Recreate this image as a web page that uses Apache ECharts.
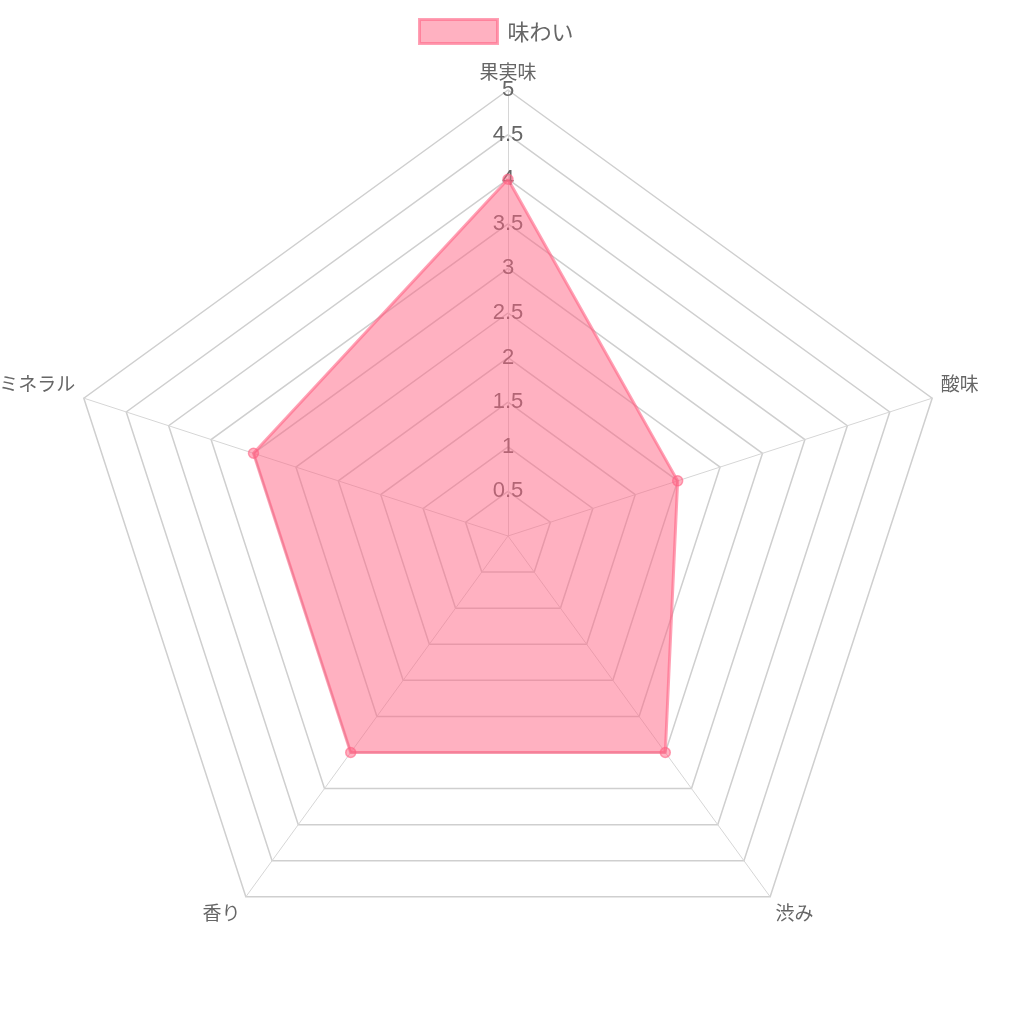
<!DOCTYPE html>
<html><head><meta charset="utf-8">
<script src="https://cdn.jsdelivr.net/npm/echarts@6/dist/echarts.min.js"></script>
<style>html,body{margin:0;padding:0;background:#fff}#c{width:1012px;height:1012px}</style>
</head><body><div id="c"></div>
<script>
const categories = ['果実味', '酸味', '渋み', '香り', 'ミネラル'];
const seriesName = '味わい';
const values = [4, 2, 3, 3, 3];
const maxValue = 5;
const tickStep = 0.5;

// ECharts goes counter-clockwise; reorder to keep reference clockwise layout
const order = [0, 4, 3, 2, 1];
const indicators = order.map(i => ({ name: categories[i], max: maxValue, min: 0 }));
const data = order.map(i => values[i]);

const FONT = '"Noto Sans CJK JP", "Noto Sans", sans-serif';
const CX = 508, CY = 536, R = 446;

// label style per position (side labels sit a bit higher, bottom ones a bit lower)
const nameStyleKey = name => {
  const i = categories.indexOf(name);
  if (i === 1 || i === 4) return 'side';
  if (i === 2 || i === 3) return 'bottom';
  return 'top';
};

const chart = echarts.init(document.getElementById('c'));
chart.setOption({
  animation: false,
  legend: {
    top: 14, left: 414, padding: 4,
    data: [seriesName],
    icon: 'rect', itemWidth: 78, itemHeight: 24, itemGap: 11,
    textStyle: { color: '#666', fontSize: 22, fontFamily: FONT, padding: [0, 0, 0, 5] },
    itemStyle: { color: 'rgba(255,99,132,0.5)', borderColor: 'rgba(255,99,132,0.6)', borderWidth: 3 }
  },
  grid: { left: CX, width: 1, top: CY - R, height: R },
  xAxis: { type: 'value', show: false },
  yAxis: {
    type: 'value', min: 0, max: maxValue, interval: tickStep, z: 0,
    axisLine: { show: false }, axisTick: { show: false }, splitLine: { show: false },
    axisLabel: {
      margin: 0, align: 'center', verticalAlign: 'middle',
      color: '#666', fontSize: 22, fontFamily: 'Liberation Sans, Arial, sans-serif',
      formatter: v => (v === 0 ? '' : String(v))
    }
  },
  radar: {
    center: [CX, CY], radius: R, shape: 'polygon', splitNumber: 10, z: 0,
    indicator: indicators,
    nameGap: 9,
    axisName: {
      color: '#666', fontSize: 19, fontFamily: FONT,
      formatter: name => `{${nameStyleKey(name)}|${name}}`,
      rich: {
        top: { color: '#666', fontSize: 19, fontFamily: FONT },
        side: { color: '#666', fontSize: 19, fontFamily: FONT, padding: [0, 0, 24, 0] },
        bottom: { color: '#666', fontSize: 19, fontFamily: FONT, padding: [18, 0, 0, 0] }
      }
    },
    axisLine: { lineStyle: { color: '#d6d6d6', width: 1 } },
    splitLine: { lineStyle: { color: '#cfcfcf', width: 1.5 } },
    splitArea: { show: false }
  },
  series: [{
    type: 'radar', name: seriesName, z: 2,
    symbol: 'circle', symbolSize: 10,
    lineStyle: { color: 'rgba(255,99,132,0.6)', width: 3 },
    itemStyle: { color: 'rgba(255,99,132,0.5)', borderColor: 'rgba(255,99,132,0.6)', borderWidth: 1.5 },
    areaStyle: { color: 'rgba(255,99,132,0.5)', opacity: 1 },
    data: [{ value: data, name: seriesName }]
  }]
});
</script></body></html>
